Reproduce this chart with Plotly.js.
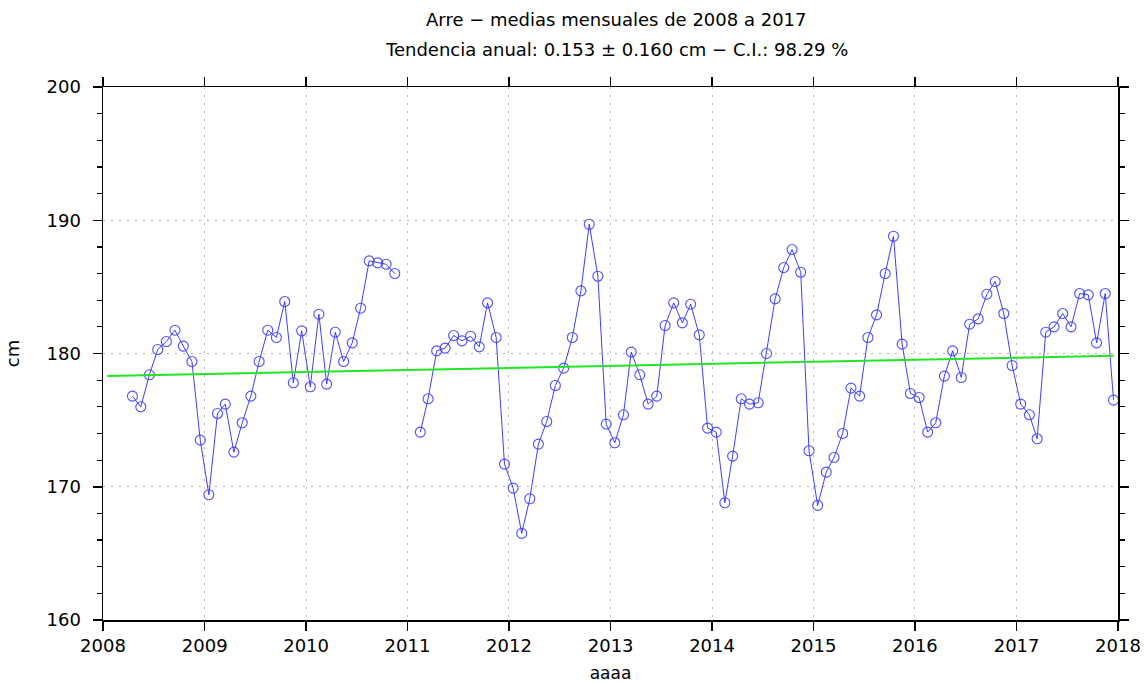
<!DOCTYPE html>
<html>
<head>
<meta charset="utf-8">
<script src="https://cdn.plot.ly/plotly-3.0.1.min.js"></script>
<style>html,body{margin:0;padding:0;background:#fff;}#chart{width:1147px;height:683px;}</style>
</head>
<body>
<div id="chart"></div>
<script>
// Monthly means (cm), Jan..Dec; null = no data
const years = [2008, 2009, 2010, 2011, 2012, 2013, 2014, 2015, 2016, 2017];
const v2008 = [null, null, null, 176.8, 176.0, 178.4, 180.3, 180.9, 181.75, 180.55, 179.4, 173.5];
const v2009 = [169.4, 175.5, 176.2, 172.6, 174.8, 176.8, 179.4, 181.75, 181.2, 183.9, 177.8, 181.7];
const v2010 = [177.5, 182.95, 177.7, 181.6, 179.4, 180.8, 183.4, 186.95, 186.8, 186.7, 186.0, null];
const v2011 = [null, 174.1, 176.6, 180.2, 180.4, 181.35, 180.95, 181.3, 180.5, 183.8, 181.2, 171.7];
const v2012 = [169.9, 166.5, 169.1, 173.2, 174.9, 177.6, 178.9, 181.2, 184.7, 189.7, 185.8, 174.7];
const v2013 = [173.3, 175.4, 180.1, 178.4, 176.2, 176.8, 182.1, 183.8, 182.3, 183.7, 181.4, 174.4];
const v2014 = [174.1, 168.8, 172.3, 176.6, 176.2, 176.3, 180.0, 184.1, 186.45, 187.8, 186.1, 172.7];
const v2015 = [168.6, 171.1, 172.2, 174.0, 177.4, 176.8, 181.2, 182.9, 186.0, 188.8, 180.7, 177.0];
const v2016 = [176.7, 174.1, 174.8, 178.3, 180.2, 178.2, 182.2, 182.6, 184.45, 185.4, 183.0, 179.1];
const v2017 = [176.2, 175.4, 173.6, 181.6, 182.0, 183.0, 182.0, 184.5, 184.4, 180.8, 184.5, 176.5];
const allValues = [v2008, v2009, v2010, v2011, v2012, v2013, v2014, v2015, v2016, v2017];

// Linear trend line end points (Jan 2008 .. Dec 2017)
const trendDates = ['2008-01-16', '2017-12-16'];
const trendValues = [178.31, 179.83];

const xTickYears = ['2008','2009','2010','2011','2012','2013','2014','2015','2016','2017','2018'];

const xs = [], ys = [];
years.forEach((yr, i) => {
  allValues[i].forEach((v, m) => {
    const mm = String(m + 1).padStart(2, '0');
    xs.push(yr + '-' + mm + '-16');
    ys.push(v);
  });
});

const FONT = 'DejaVu Sans, Liberation Sans, sans-serif';

const traces = [
  {
    x: xs, y: ys, type: 'scatter', mode: 'lines+markers',
    connectgaps: false,
    line: {color: 'rgba(40,40,255,0.9)', width: 1},
    marker: {symbol: 'circle-open', size: 10, color: 'rgba(60,60,255,0.9)', line: {width: 1.1}},
    hoverinfo: 'x+y'
  },
  {
    x: trendDates, y: trendValues, type: 'scatter', mode: 'lines',
    line: {color: '#22e622', width: 2}
  }
];

const layout = {
  width: 1147, height: 683,
  margin: {l: 103, r: 29, t: 87, b: 63},
  paper_bgcolor: '#fff', plot_bgcolor: '#fff',
  showlegend: false,
  font: {family: FONT, color: '#000', size: 18},
  xaxis: {
    type: 'date',
    range: ['2008-01-01', '2018-01-01'],
    tickvals: xTickYears.map(y => y + '-01-01'),
    ticktext: xTickYears,
    ticks: 'outside', ticklen: 9, tickwidth: 1.5, tickcolor: '#000',
    showline: true, linecolor: '#000', linewidth: 1.5, mirror: 'ticks',
    showgrid: true, gridcolor: '#b4b4b4', griddash: '2px,6px', gridwidth: 1,
    zeroline: false,
    tickfont: {size: 18, family: FONT},
    title: {text: 'aaaa', font: {size: 17, family: FONT}, standoff: 14}
  },
  yaxis: {
    range: [160, 200],
    dtick: 10,
    ticks: 'outside', ticklen: 9, tickwidth: 1.5, tickcolor: '#000',
    minor: {dtick: 2, ticks: 'outside', ticklen: 5, tickcolor: '#000', tickwidth: 1.2, showgrid: false},
    showline: true, linecolor: '#000', linewidth: 1.5, mirror: 'ticks',
    showgrid: true, gridcolor: '#b4b4b4', griddash: '2px,6px', gridwidth: 1,
    zeroline: false,
    ticklabelstandoff: 8,
    tickfont: {size: 18, family: FONT},
    title: {text: 'cm', font: {size: 18, family: FONT}, standoff: 22}
  },
  annotations: [
    {text: 'Arre − medias mensuales de 2008 a 2017', xref: 'paper', yref: 'paper',
     x: 0.506, y: 1, yshift: 68, showarrow: false, xanchor: 'center', yanchor: 'middle',
     font: {size: 18, family: FONT}},
    {text: 'Tendencia anual: 0.153 ± 0.160 cm − C.I.: 98.29 %', xref: 'paper', yref: 'paper',
     x: 0.506, y: 1, yshift: 38, showarrow: false, xanchor: 'center', yanchor: 'middle',
     font: {size: 18, family: FONT}}
  ]
};

Plotly.newPlot('chart', traces, layout, {displayModeBar: false, staticPlot: true});
</script>
</body>
</html>
